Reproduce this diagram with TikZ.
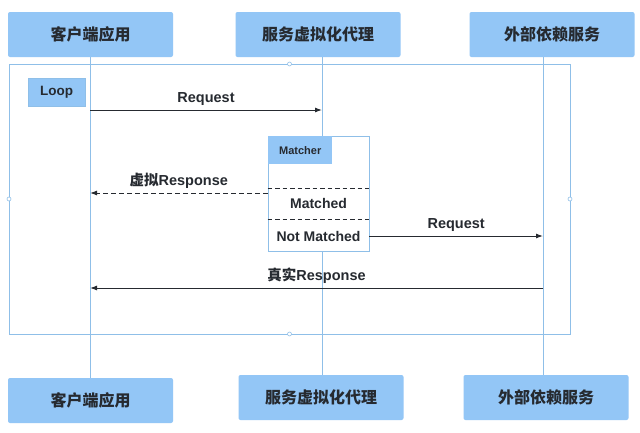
\documentclass[tikz,border=0pt]{standalone}
\usepackage{fontspec}
\setmainfont{Liberation Sans}
\newfontfamily\cjk{Noto Sans CJK SC}
\usetikzlibrary{arrows.meta}
\definecolor{boxblue}{HTML}{93C6F6}
\definecolor{lineblue}{HTML}{8FBFE8}
\definecolor{ink}{HTML}{262A30}
\tikzset{
  actor/.style={fill=boxblue, rounded corners=2pt, minimum width=165pt, minimum height=45pt,
    font=\cjk\fontsize{16}{16}\selectfont\bfseries, text=ink},
  life/.style={lineblue, line width=0.8pt},
  msg/.style={-{Latex[length=7pt,width=5pt]}, line width=1pt, ink},
  lbl/.style={font=\fontsize{14.5}{14.5}\selectfont\bfseries, text=ink},
}
\begin{document}
\begin{tikzpicture}[x=1pt,y=-1pt]
    \useasboundingbox[fill=white] (0,0) rectangle (640,432);
    % actors top and bottom
    \node[actor] (cT) at (90.5,34.5) {客户端应用};
    \node[actor] (pT) at (318,34.5) {服务虚拟化代理};
    \node[actor] (sT) at (552,34.5) {外部依赖服务};
    \node[actor] (cB) at (90.5,400.5) {客户端应用};
    \node[actor] (pB) at (321,397.5) {服务虚拟化代理};
    \node[actor] (sB) at (546,397.5) {外部依赖服务};
    % lifelines
    \coordinate (c) at (90,0);
    \coordinate (p) at (322,0);
    \coordinate (s) at (543,0);
    \foreach \l/\t/\b in {c/cT/cB,p/pT/pB,s/sT/sB} \draw[life] (\l |- \t.south) -- (\l |- \b.north);
    % loop frame
    \draw[life] (9,64) rectangle (570,334);
    \foreach \p in {(289.5,64),(289.5,334),(9,199),(570,199)} \draw[lineblue,fill=white,line width=0.6pt] \p circle (2pt);
    \node[fill=boxblue, draw=lineblue, minimum width=57pt, minimum height=28pt,
      font=\fontsize{13.5}{13.5}\selectfont\bfseries, text=ink] (loop) at (56.5,92) {Loop};
    % matcher
    \node[draw=lineblue, line width=0.8pt, fill=white, minimum width=101pt, minimum height=115pt] (match) at (318.5,193.5) {};
    \node[fill=boxblue, minimum width=64pt, minimum height=28pt, anchor=north west, inner sep=0pt,
      font=\fontsize{11}{11}\selectfont\bfseries, text=ink] (mtag) at ([shift={(0.4pt,-0.4pt)}]match.north west) {Matcher};
    \foreach \y in {188,219} \draw[ink, line width=1pt, dash pattern=on 4.5pt off 3pt] (match.west |- 0,\y) -- (match.east |- 0,\y);
    \node[lbl, font=\fontsize{14}{14}\selectfont\bfseries] (hit) at (318.5,203) {Matched};
    \node[lbl, font=\fontsize{14}{14}\selectfont\bfseries] (miss) at (318.5,236.5) {Not Matched};
    % messages
    \draw[msg] (c |- 0,110) -- node[lbl, above=1pt] {Request} (p |- 0,110);
    \draw[msg, dash pattern=on 5pt off 3pt] (match.west |- 0,193) -- node[lbl, above=1pt] {{\cjk\bfseries 虚拟}Response} (c |- 0,193);
    \draw[msg] (match.east |- 0,236) -- node[lbl, above=1pt] {Request} (s |- 0,236);
    \draw[msg] (s |- 0,288) -- node[lbl, above=1pt] {{\cjk\bfseries 真实}Response} (c |- 0,288);
\end{tikzpicture}
\end{document}
